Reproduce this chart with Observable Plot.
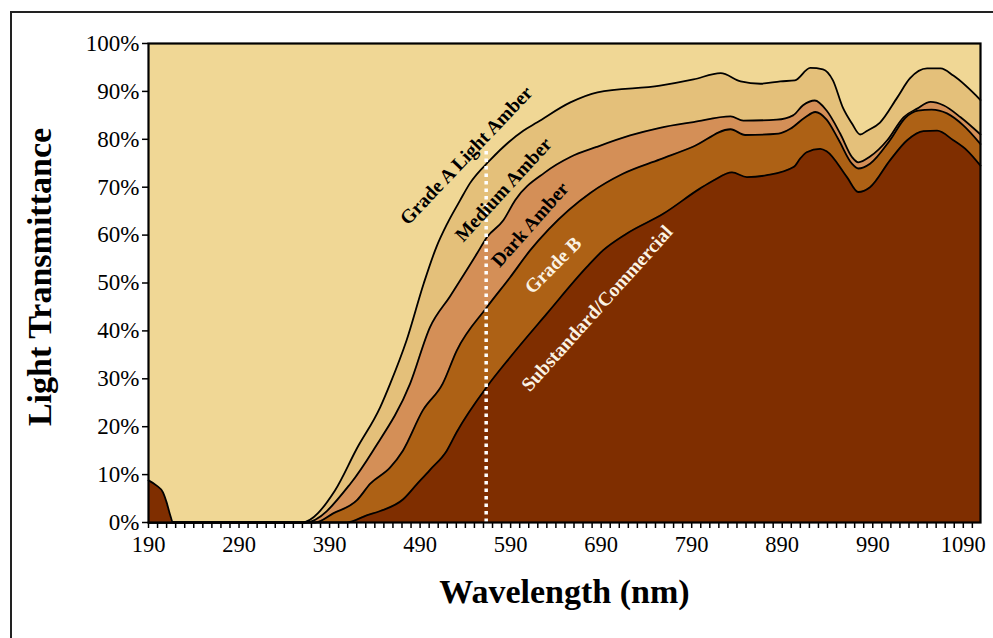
<!DOCTYPE html>
<html>
<head>
<meta charset="utf-8">
<script src="https://cdn.jsdelivr.net/npm/d3@7"></script>
<script src="https://cdn.jsdelivr.net/npm/@observablehq/plot@0.6"></script>
<style>
  html, body { margin: 0; padding: 0; background: #fff; overflow: hidden; }
  #wrap { position: relative; width: 993px; height: 638px; }
  #border { position: absolute; left: 10px; top: 11px; width: 1000px; height: 700px;
            border: 2px solid #222; box-sizing: border-box; pointer-events: none; }
</style>
</head>
<body>
<div id="wrap"><div id="chart"></div><div id="border"></div></div>
<script>
// ---- Data ----
const yTicks = [0, 10, 20, 30, 40, 50, 60, 70, 80, 90, 100];
const xTickLabels = [190, 290, 390, 490, 590, 690, 790, 890, 990, 1090];

const lightAmberWl  = [190, 359, 396, 420, 446, 457, 475, 494, 508, 520, 534, 545, 567, 604, 619, 656, 686, 755, 792, 822, 844, 866, 888, 904, 921, 935, 946, 957, 967, 976, 984, 998, 1017, 1031, 1050, 1065, 1079, 1109];
const lightAmberPct = [0, 0, 6.7, 15.4, 24.1, 29.0, 38.0, 49.9, 57.5, 62.4, 67.2, 70.8, 75.6, 81.8, 83.5, 87.7, 89.8, 91.2, 92.5, 93.8, 92.1, 91.6, 92.1, 92.3, 94.9, 94.6, 92.3, 86.6, 83.3, 81.0, 81.8, 83.5, 88.7, 92.7, 94.8, 94.8, 93.3, 88.2];

const mediumAmberWl  = [190, 363, 413, 438, 479, 501, 523, 553, 564, 582, 595, 628, 656, 685, 722, 755, 792, 833, 847, 884, 902, 913, 926, 939, 954, 967, 974, 987, 1006, 1024, 1039, 1054, 1068, 1087, 1109];
const mediumAmberPct = [0, 0, 8.1, 15.0, 29.0, 40.8, 47.2, 56.2, 59.6, 63.1, 67.3, 73.1, 76.3, 78.4, 80.8, 82.4, 83.6, 84.8, 83.9, 84.1, 85.0, 87.1, 88.1, 86.0, 81.2, 76.3, 75.2, 76.4, 79.8, 84.6, 86.4, 87.8, 87.1, 84.6, 81.0];

const darkAmberWl  = [190, 374, 394, 420, 435, 457, 471, 493, 515, 530.5, 564, 589.5, 611.5, 632, 678, 714, 755, 792, 833, 849, 886, 899, 915.5, 926.5, 939, 952, 967, 974, 987, 1009, 1026, 1040, 1055, 1072, 1090, 1109];
const darkAmberPct = [0, 0, 1.9, 4.6, 8.1, 11.5, 15.0, 23.4, 29.0, 35.9, 45.0, 51.2, 56.8, 61.2, 68.8, 72.8, 75.8, 78.5, 82.1, 80.9, 81.2, 82.2, 84.6, 85.7, 84.1, 80.0, 74.9, 73.9, 74.9, 79.8, 84.5, 86.0, 86.2, 85.4, 82.9, 79.0];

const gradeBWl  = [190, 199, 206, 210, 214, 217, 409, 431, 446, 471, 486, 501, 519.5, 530.5, 564, 589.5, 630, 674, 692, 718, 759, 799, 814, 834.5, 851, 873, 902.5, 910, 917, 932, 939, 961.5, 974, 987, 1009, 1028, 1046, 1061, 1079, 1094, 1109];
const gradeBPct = [8.8, 7.7, 6.3, 4.2, 1.5, 0, 0, 1.5, 2.4, 4.8, 7.9, 11.0, 15.0, 18.9, 28.4, 34.5, 43.6, 53.3, 56.8, 60.3, 64.5, 69.7, 71.4, 73.1, 72.1, 72.5, 74.2, 76.0, 77.3, 78.0, 77.5, 72.1, 69.0, 70.0, 75.6, 79.8, 81.7, 81.8, 79.8, 77.7, 74.5];

const referenceWl = 563;
const referenceTop = 78;

const labelText  = ["Grade A Light Amber", "Medium Amber", "Dark Amber", "Grade B", "Substandard/Commercial"];
const labelWl    = [541, 582, 611.5, 637, 685.5];
const labelPct   = [76.6, 69.5, 62.2, 53.7, 44.7];
const labelAngle = [-46.5, -47.5, -48.5, -45, -48];

const xTitle = "Wavelength (nm)";
const yTitle = "Light Transmittance";

// ---- Styling ----
const FONT = "'Liberation Serif', 'DejaVu Serif', serif";
const bgFill = "#F0D795";
const curveFills = ["#E4C07A", "#D48F57", "#AD6115", "#7F2E00"];
const labelColors = ["#000", "#000", "#000", "#FBF3E4", "#FBF3E4"];

const curves = [
  [lightAmberWl, lightAmberPct],
  [mediumAmberWl, mediumAmberPct],
  [darkAmberWl, darkAmberPct],
  [gradeBWl, gradeBPct]
];

const marks = [Plot.frame({fill: bgFill, stroke: "none"})];
curves.forEach(([wl, pct], i) => {
  const rows = wl.map((w, j) => ({wl: w, pct: pct[j]}));
  marks.push(Plot.areaY(rows, {x: "wl", y: "pct", fill: curveFills[i], curve: "monotone-x"}));
  marks.push(Plot.lineY(rows, {x: "wl", y: "pct", stroke: "#000", strokeWidth: 1.8, curve: "monotone-x"}));
});

marks.push(Plot.ruleX([referenceWl], {x: d => d, y1: 0, y2: referenceTop, stroke: "#fff", strokeWidth: 3.5, strokeDasharray: "3.5,4"}));

labelText.forEach((t, i) => {
  marks.push(Plot.text([t], {
    x: () => labelWl[i], y: () => labelPct[i], text: d => d,
    rotate: labelAngle[i], fill: labelColors[i],
    textAnchor: "middle", lineAnchor: "middle",
    fontSize: 19.5, fontWeight: "bold", fontFamily: FONT
  }));
});

marks.push(Plot.axisY({ticks: yTicks, tickFormat: d => d + "%", tickSize: 6, tickPadding: 3,
  fontSize: 23, fontFamily: FONT, label: null, stroke: "#000", strokeWidth: 1.5}));
marks.push(Plot.axisX({ticks: d3.range(190, 1101, 10),
  tickFormat: d => xTickLabels.includes(d) ? String(d) : "",
  tickSize: 6, tickPadding: 8, fontSize: 22.5, fontFamily: FONT, label: null, stroke: "#000", strokeWidth: 1.5}));

marks.push(Plot.text([xTitle], {frameAnchor: "bottom", dy: 70, text: d => d,
  textAnchor: "middle", lineAnchor: "middle",
  fontSize: 34, fontWeight: "bold", fontFamily: FONT, fill: "#000"}));
marks.push(Plot.text([yTitle], {frameAnchor: "left", dx: -108, dy: -6, rotate: -90, text: d => d,
  textAnchor: "middle", lineAnchor: "middle",
  fontSize: 34, fontWeight: "bold", fontFamily: FONT, fill: "#000"}));

marks.push(Plot.frame({stroke: "#000", strokeWidth: 2.2}));

const chart = Plot.plot({
  width: 993,
  height: 638,
  marginLeft: 148,
  marginRight: 13,
  marginTop: 43,
  marginBottom: 116,
  x: {domain: [190, 1109]},
  y: {domain: [0, 100]},
  style: {fontFamily: FONT, fontSize: "22px", color: "#000", background: "#fff", overflow: "visible"},
  marks
});
document.getElementById("chart").appendChild(chart);
</script>
</body>
</html>
